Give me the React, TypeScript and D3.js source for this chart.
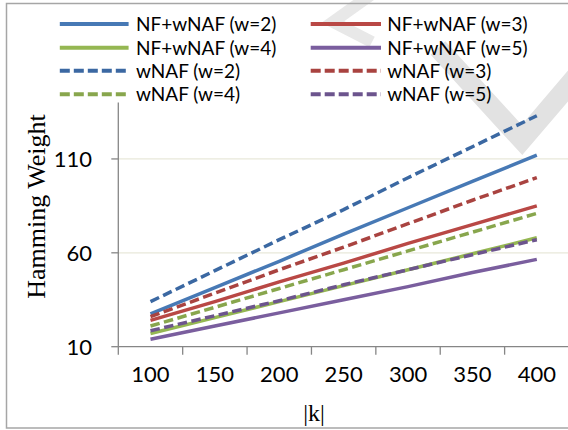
import React from "react";
import * as d3 from "d3";

const categories = ["100", "150", "200", "250", "300", "350", "400"];
const nfW2 = [27.5, 41.5, 55.5, 70, 84, 98, 112];
const nfW3 = [24, 34, 44.5, 54.5, 65, 75, 85];
const nfW4 = [17, 25.5, 34, 42.5, 51, 59.5, 68];
const nfW5 = [14, 21, 28, 35, 42, 49.5, 56.5];
const wnafW2 = [34, 50.5, 67, 83, 100, 116.5, 133];
const wnafW3 = [26, 38.5, 51, 63, 75.5, 88, 100];
const wnafW4 = [21, 31, 41, 51, 61, 71, 81];
const wnafW5 = [18.5, 26.5, 34.5, 43, 51, 59, 67];
const seriesNames = [
  "NF+wNAF (w=2)",
  "NF+wNAF (w=3)",
  "NF+wNAF (w=4)",
  "NF+wNAF (w=5)",
  "wNAF (w=2)",
  "wNAF (w=3)",
  "wNAF (w=4)",
  "wNAF (w=5)",
];
const yTicks = [10, 60, 110];
const yTitle = "Hamming Weight";
const xTitle = "|k|";

const seriesValues = [nfW2, nfW3, nfW4, nfW5, wnafW2, wnafW3, wnafW4, wnafW5];
const colors = [
  "#4779B5",
  "#B94845",
  "#95B752",
  "#7A5E9E",
  "#3B68A2",
  "#A94340",
  "#88A64D",
  "#6C548D",
];
const dashed = [false, false, false, false, true, true, true, true];

const W = 568;
const H = 430;
const plotLeft = 118.3;
const plotRight = 569;
const plotTop = 102.6;
const plotBottom = 346.7;
const sansFont = "Lato, 'Open Sans', sans-serif";
const serifFont = "'Liberation Serif', 'DejaVu Serif', serif";

export default function App() {
  const x = d3
    .scaleBand<string>()
    .domain(categories)
    .range([plotLeft, plotRight])
    .padding(0);
  const y = d3.scaleLinear().domain([10, 140]).range([plotBottom, plotTop]);
  const cx = (c: string) => (x(c) as number) + x.bandwidth() / 2;

  const line = d3
    .line<number>()
    .x((_, i) => cx(categories[i]))
    .y((d) => y(d));

  const boundaries = categories.map((c) => x(c) as number).concat([plotRight]);

  const legendCols = [
    { lx1: 59.8, lx2: 128.6, tx: 136 },
    { lx1: 310.7, lx2: 381, tx: 387.3 },
  ];
  const legendRows = [24, 47.7, 70.7, 94.3];

  return (
    <svg
      width={W}
      height={H}
      style={{ position: "absolute", left: 0, top: 0, background: "#fff" }}
    >
      <rect x={0} y={0} width={W} height={H} fill="#fff" />
      {/* faint watermark shapes */}
      <g>
        <path
          d="M 438 48 L 522 140 L 585 66"
          fill="none"
          stroke="#E2E2E2"
          strokeWidth={20}
        />
        <path
          d="M 372 -6 L 333 22 L 372 42"
          fill="none"
          stroke="#E8E8E8"
          strokeWidth={12}
        />
      </g>
      {/* outer border */}
      <rect
        x={6.5}
        y={3.5}
        width={620}
        height={424.5}
        fill="none"
        stroke="#A6A6A6"
        strokeWidth={1.5}
      />
      {/* gridlines */}
      {yTicks.slice(1).map((t) => (
        <line
          key={"g" + t}
          x1={plotLeft}
          x2={plotRight}
          y1={y(t)}
          y2={y(t)}
          stroke="#E8E8DA"
          strokeWidth={1.2}
        />
      ))}
      {/* axes */}
      <line
        x1={plotLeft}
        x2={plotLeft}
        y1={plotTop}
        y2={plotBottom}
        stroke="#868686"
        strokeWidth={1.3}
      />
      <line
        x1={plotLeft}
        x2={plotRight}
        y1={plotBottom}
        y2={plotBottom}
        stroke="#868686"
        strokeWidth={1.3}
      />
      {yTicks.map((t) => (
        <g key={"yt" + t}>
          <line
            x1={plotLeft - 7}
            x2={plotLeft}
            y1={y(t)}
            y2={y(t)}
            stroke="#868686"
            strokeWidth={1.3}
          />
          <text
            x={92}
            y={y(t)}
            dy="0.36em"
            textAnchor="end"
            fontFamily={sansFont}
            fontSize={22}
            fill="#000"
          >
            {t}
          </text>
        </g>
      ))}
      {boundaries.map((b, i) => (
        <line
          key={"xt" + i}
          x1={b}
          x2={b}
          y1={plotBottom}
          y2={plotBottom + 8}
          stroke="#868686"
          strokeWidth={1.3}
        />
      ))}
      {categories.map((c) => (
        <text
          key={"xl" + c}
          x={cx(c)}
          y={381.5}
          textAnchor="middle"
          fontFamily={sansFont}
          fontSize={22}
          fill="#000"
        >
          {c}
        </text>
      ))}
      {/* series */}
      {seriesValues.map((vals, i) => (
        <path
          key={"s" + i}
          d={line(vals) || ""}
          fill="none"
          stroke={colors[i]}
          strokeWidth={3.5}
          strokeDasharray={dashed[i] ? "9.5,4.5" : undefined}
        />
      ))}
      {/* axis titles */}
      <text
        x={314}
        y={421}
        textAnchor="middle"
        fontFamily={serifFont}
        fontSize={24}
        fill="#000"
      >
        {xTitle}
      </text>
      <text
        transform={`translate(45,206.5) rotate(-90)`}
        textAnchor="middle"
        fontFamily={serifFont}
        fontSize={26}
        fill="#000"
      >
        {yTitle}
      </text>
      {/* legend */}
      {seriesNames.map((name, i) => {
        const col = legendCols[i % 2];
        const ry = legendRows[Math.floor(i / 2)];
        return (
          <g key={"lg" + i}>
            <line
              x1={col.lx1}
              x2={col.lx2}
              y1={ry}
              y2={ry}
              stroke={colors[i]}
              strokeWidth={4}
              strokeDasharray={dashed[i] ? "10,4" : undefined}
            />
            <text
              x={col.tx}
              y={ry}
              dy="0.36em"
              fontFamily={sansFont}
              fontSize={19}
              fill="#000"
            >
              {name}
            </text>
          </g>
        );
      })}
    </svg>
  );
}
